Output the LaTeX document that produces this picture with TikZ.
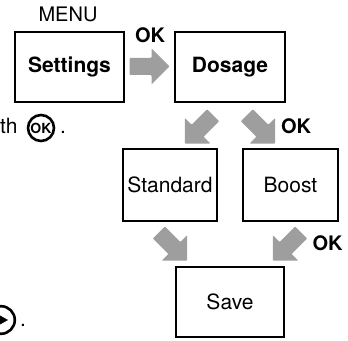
\documentclass[tikz,border=0pt]{standalone}
\usepackage{fontspec}
\setmainfont{TeX Gyre Heros}
\usetikzlibrary{calc}
\definecolor{arrowfill}{RGB}{158,158,158}
\tikzset{
  x=1pt, y=1pt,
  menubox/.style={draw, line width=2.8pt, inner sep=0pt, align=center},
  boldlabel/.style={font=\fontsize{21}{25}\selectfont\bfseries, inner sep=0pt},
  plainlabel/.style={font=\fontsize{21}{25}\selectfont, inner sep=0pt},
  keylabel/.style={font=\fontsize{20}{24}\selectfont\bfseries, inner sep=0pt},
  keyring/.style={draw, circle, line width=2.6pt, inner sep=0pt},
  blockarrow/.pic={
    \fill[arrowfill, rounded corners=0.8pt]
      (20,0) -- (2,18) -- (2,8.5) -- (-20,8.5) -- (-20,-8.5) -- (2,-8.5) -- (2,-18) -- cycle;
  }
}
\begin{document}
\begin{tikzpicture}
\useasboundingbox (0,0) rectangle (348,340);

% menu screens
\node[menubox, boldlabel, minimum width=109pt, minimum height=70pt] (settings) at (69.5,273) {Settings};
\node[menubox, boldlabel, minimum width=110pt, minimum height=70pt] (dosage) at (230,273) {Dosage};
\node[menubox, plainlabel, minimum width=94pt, minimum height=72pt] (standard) at (170,155) {Standard};
\node[menubox, plainlabel, minimum width=95pt, minimum height=72pt] (boost) at (290.5,155) {Boost};
\node[menubox, plainlabel, minimum width=108pt, minimum height=70pt] (save) at (230,38) {Save};

% labels
\node[font=\fontsize{20}{24}\selectfont, inner sep=0pt] (menu) at (68,325.5) {MENU};
\node[keylabel] (ok1) at (150,305) {OK};
\node[keylabel] (ok2) at (296,214) {OK};
\node[keylabel] (ok3) at (327.5,96.5) {OK};

% transitions between screens
\pic at ($(settings.east)!0.5!(dosage.west)+(0,0.5)$) {blockarrow};
\pic[rotate=225] at ($(dosage.south)+(-31,-26)$) {blockarrow};
\pic[rotate=-45] at ($(dosage.south)+(31,-26)$) {blockarrow};
\pic[rotate=-45] at ($(save.north)+(-57,19)$) {blockarrow};
\pic[rotate=225] at ($(save.north)+(57,19)$) {blockarrow};

% instruction fragments at the left edge
\node[plainlabel, anchor=base west] (th) at (0,206) {th};
\node[keyring, minimum size=26pt, font=\fontsize{14}{16}\selectfont\bfseries] (okkey) at (41,212) {OK};
\node[plainlabel, anchor=base] (dot1) at (63,206) {.};

\node[keyring, minimum size=27.6pt] (nextkey) at (1,20) {};
\fill ($(nextkey.center)+(-9,9)$) -- ($(nextkey.center)+(7,0)$) -- ($(nextkey.center)+(-9,-9)$) -- cycle;
\node[plainlabel, anchor=base] (dot2) at (23,13.5) {.};
\end{tikzpicture}
\end{document}
